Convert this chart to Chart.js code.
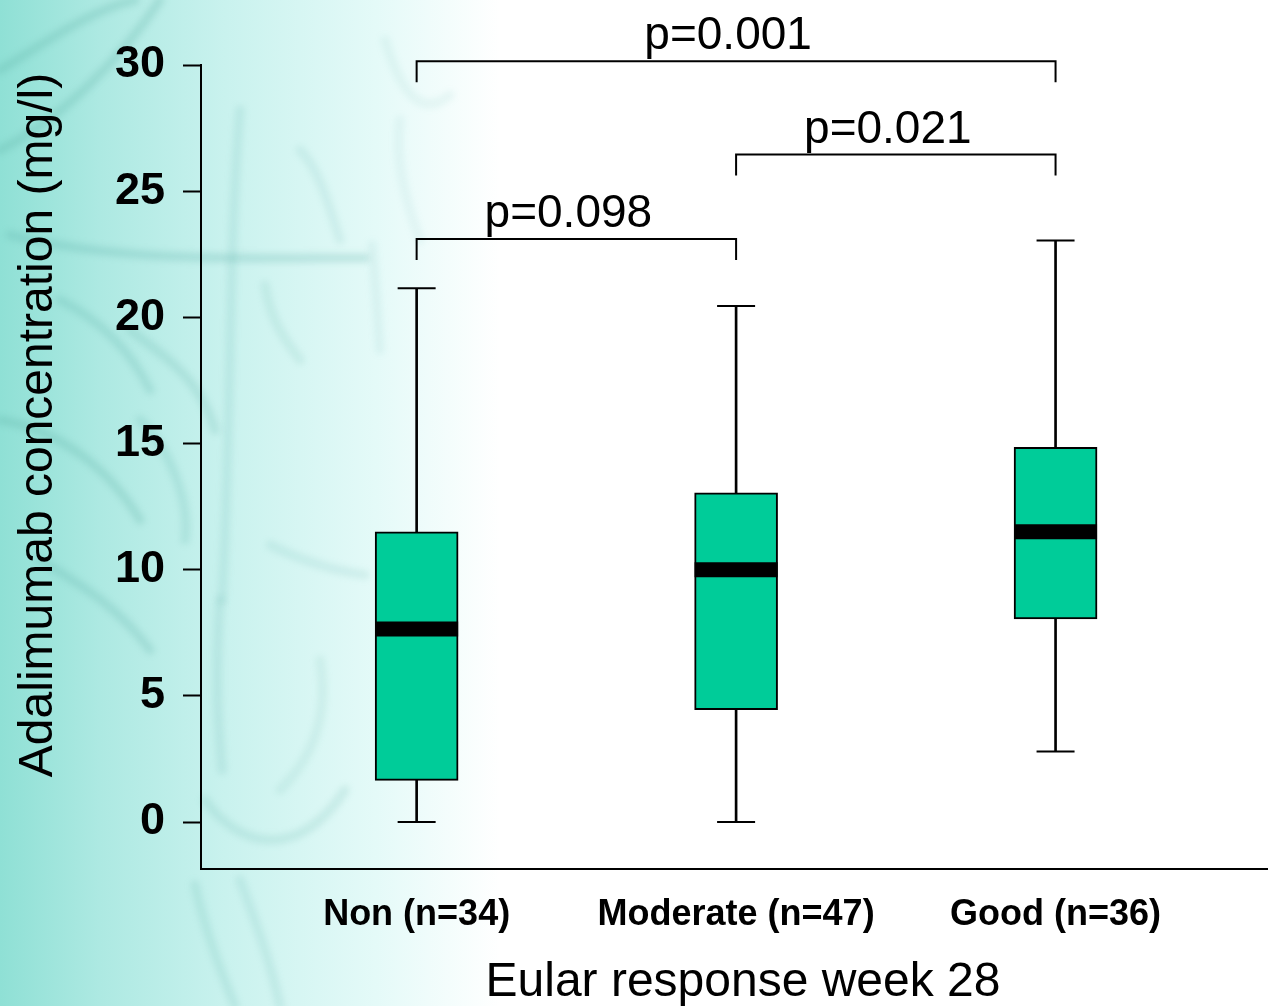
<!DOCTYPE html>
<html>
<head>
<meta charset="utf-8">
<script src="https://cdn.jsdelivr.net/npm/chart.js@4/dist/chart.umd.min.js"></script>
<style>
  html, body { margin: 0; padding: 0; background: #fff; }
  #wrap { width: 1268px; height: 1006px; position: relative; }
</style>
</head>
<body>
<div id="wrap"><canvas id="chart" width="1268" height="1006"></canvas></div>
<script>

/* ------------------------------------------------ */

// box plot summary per Eular response group (mg/l)
let categories = ['Non (n=34)', 'Moderate (n=47)', 'Good (n=36)'];
let whiskerLow = [0, 0, 2.8];
let quartile1 = [1.65, 4.45, 8.05];
let medians = [7.65, 10.0, 11.5];
let quartile3 = [11.5, 13.05, 14.85];
let whiskerHigh = [21.15, 20.45, 23.05];

let yTicks = [0, 5, 10, 15, 20, 25, 30];

// pairwise comparisons drawn as brackets above the boxes
let pLabels = ['p=0.098', 'p=0.021', 'p=0.001'];
let pFrom = [0, 1, 0];
let pTo = [1, 2, 2];
let pLevel = [23.1, 26.45, 30.15];

let yTitle = 'Adalimumab concentration (mg/l)';
let xTitle = 'Eular response week 28';

/* ------------------------------------------------ */

const FONT = '"Liberation Sans", Arial, Helvetica, sans-serif';
const BOX_GREEN = '#00cc99';

// faint decorative veins over the teal backdrop
let veins = [
  [[0, 70], [50, 40], [90, 10], [135, 0]],
  [[0, 150], [60, 120], [120, 60], [160, 0]],
  [[10, 235], [120, 262], [230, 258], [365, 258]],
  [[240, 110], [228, 250], [232, 420], [222, 600]],
  [[265, 285], [270, 320], [285, 340], [300, 360]],
  [[372, 245], [376, 290], [378, 320], [380, 350]],
  [[130, 330], [170, 360], [200, 380], [215, 430]],
  [[0, 420], [60, 430], [110, 470], [140, 520]],
  [[40, 560], [90, 590], [120, 610], [150, 650]],
  [[270, 545], [300, 560], [330, 570], [365, 575]],
  [[220, 600], [215, 680], [218, 720], [222, 770]],
  [[320, 660], [330, 720], [310, 760], [280, 790]],
  [[205, 800], [240, 850], [300, 860], [345, 790]],
  [[195, 885], [205, 930], [220, 970], [235, 1006]],
  [[240, 880], [255, 920], [270, 960], [280, 1006]],
  [[385, 40], [400, 90], [420, 120], [450, 95]],
  [[400, 120], [395, 160], [405, 200], [420, 240]],
  [[140, 420], [170, 450], [190, 500], [185, 540]],
  [[60, 300], [100, 320], [130, 350], [150, 390]],
  [[300, 150], [320, 170], [330, 210], [340, 240]],
];

const backdrop = {
  id: 'backdrop',
  beforeDraw(chart) {
    let ctx = chart.ctx;
    ctx.save();
    ctx.fillStyle = '#ffffff';
    ctx.fillRect(0, 0, chart.width, chart.height);
    let grad = ctx.createLinearGradient(0, 0, 500, 0);
    grad.addColorStop(0, '#8fe0d5');
    grad.addColorStop(0.2, '#ade9e2');
    grad.addColorStop(0.45, '#c9f2ee');
    grad.addColorStop(0.75, '#e4faf8');
    grad.addColorStop(1, '#ffffff');
    ctx.fillStyle = grad;
    ctx.fillRect(0, 0, 500, chart.height);

    ctx.filter = 'blur(3px)';
    ctx.lineCap = 'round';
    ctx.lineWidth = 9;
    veins.forEach((v) => {
      let fade = Math.max(0, 1 - v[0][0] / 480);
      ctx.strokeStyle = 'rgba(90, 175, 165, ' + (0.2 * fade + 0.05).toFixed(3) + ')';
      ctx.beginPath();
      ctx.moveTo(v[0][0], v[0][1]);
      ctx.bezierCurveTo(v[1][0], v[1][1], v[2][0], v[2][1], v[3][0], v[3][1]);
      ctx.stroke();
    });
    ctx.restore();
  }
};

const annotations = {
  id: 'annotations',
  afterDraw(chart) {
    let ctx = chart.ctx;
    let xs = chart.scales.x;
    let ys = chart.scales.y;
    ctx.save();

    // significance brackets
    ctx.strokeStyle = '#000';
    ctx.lineWidth = 2;
    ctx.fillStyle = '#000';
    ctx.font = '46px ' + FONT;
    ctx.textAlign = 'center';
    ctx.textBaseline = 'alphabetic';
    pLabels.forEach((label, i) => {
      let x1 = xs.getPixelForValue(pFrom[i]);
      let x2 = xs.getPixelForValue(pTo[i]);
      let y = ys.getPixelForValue(pLevel[i]);
      ctx.beginPath();
      ctx.moveTo(x1, y + 21);
      ctx.lineTo(x1, y);
      ctx.lineTo(x2, y);
      ctx.lineTo(x2, y + 21);
      ctx.stroke();
      ctx.fillText(label, (x1 + x2) / 2 - 8, y - 12);
    });

    // axis titles
    ctx.font = '48px ' + FONT;
    ctx.textAlign = 'center';
    ctx.fillText(xTitle, 743, 996);

    ctx.translate(52, 425);
    ctx.rotate(-Math.PI / 2);
    ctx.fillText(yTitle, 0, 0);
    ctx.restore();
  }
};

/* ------------------------------------------------ */

function boxData(lo, hi) {
  return categories.map((c, i) => ({ x: i, y: [lo[i], hi[i]] }));
}

function pointData(vals) {
  return categories.map((c, i) => ({ x: i, y: vals[i] }));
}

function generateChart() {
  let ctx = document.getElementById('chart').getContext('2d');

  let datasets = [
    {
      type: 'bar',
      label: 'whisker',
      data: boxData(whiskerLow, whiskerHigh),
      backgroundColor: '#000',
      barThickness: 2,
      grouped: false,
      order: 4,
    },
    {
      type: 'bar',
      label: 'box',
      data: boxData(quartile1, quartile3),
      backgroundColor: BOX_GREEN,
      borderColor: '#000',
      borderWidth: 2,
      borderSkipped: false,
      barThickness: 83,
      grouped: false,
      order: 3,
    },
    {
      type: 'line',
      label: 'caps',
      data: pointData(whiskerLow).concat(pointData(whiskerHigh)),
      showLine: false,
      pointStyle: 'line',
      pointRadius: 19,
      pointBorderWidth: 2,
      pointBorderColor: '#000',
      order: 2,
    },
    {
      type: 'line',
      label: 'median',
      data: pointData(medians),
      showLine: false,
      pointStyle: 'line',
      pointRadius: 41.5,
      pointBorderWidth: 15,
      pointBorderColor: '#000',
      order: 1,
    },
  ];

  let options = {
    responsive: false,
    animation: false,
    events: [],
    layout: { autoPadding: false, padding: { top: 65, right: 0, bottom: 0, left: 0 } },
    plugins: {
      legend: { display: false },
      tooltip: { enabled: false },
    },
    scales: {
      x: {
        type: 'linear',
        offset: false,
        min: -0.675,
        max: 2.665,
        afterBuildTicks: (scale) => {
          scale.ticks = categories.map((c, i) => ({ value: i }));
        },
        afterFit: (scale) => {
          scale.height = 137;
          scale.paddingLeft = 0;
          scale.paddingRight = 0;
        },
        grid: { display: false, drawTicks: false },
        border: { display: true, color: '#000', width: 2 },
        ticks: {
          padding: 24,
          color: '#000',
          maxRotation: 0,
          autoSkip: false,
          font: { family: FONT, size: 36, weight: 'bold' },
          callback: (v) => categories[v],
        },
      },
      y: {
        type: 'linear',
        min: -1.86,
        max: 30,
        afterBuildTicks: (scale) => {
          scale.ticks = yTicks.map((v) => ({ value: v }));
        },
        afterFit: (scale) => { scale.width = 201; },
        grid: {
          drawOnChartArea: false,
          drawTicks: true,
          tickLength: 18,
          tickColor: '#000',
          tickWidth: 2,
        },
        border: { display: true, color: '#000', width: 2 },
        ticks: {
          padding: 18,
          color: '#000',
          font: { family: FONT, size: 45, weight: 'bold' },
        },
      },
    },
  };

  return new Chart(ctx, {
    type: 'bar',
    data: { datasets: datasets },
    options: options,
    plugins: [backdrop, annotations],
  });
}

let chart = generateChart();

</script>
</body>
</html>
